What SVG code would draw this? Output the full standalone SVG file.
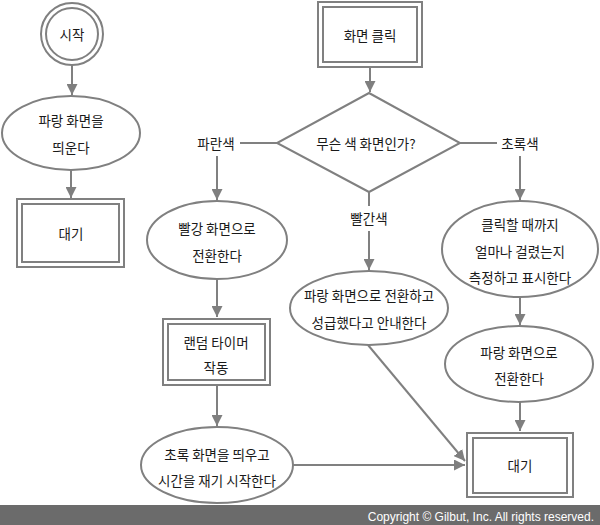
<svg xmlns="http://www.w3.org/2000/svg" width="600" height="525" viewBox="0 0 600 525">
<defs>
<marker id="ah" viewBox="0 0 10 10" refX="10" refY="5" markerWidth="5.5" markerHeight="5.5" orient="auto" markerUnits="strokeWidth">
<path d="M0,0 L10,5 L0,10 Z" fill="#7f7f7f"/>
</marker>
</defs>
<style>
.s{fill:#fff;stroke:#808080;stroke-width:2}
.n{fill:none;stroke:#808080;stroke-width:2}
.c{fill:none;stroke:#808080;stroke-width:2}
.a{marker-end:url(#ah)}
text{font-family:"Noto Sans CJK KR","Noto Sans",sans-serif;font-size:13.5px;fill:#1a1a1a;text-anchor:middle;dominant-baseline:central}
.f{font-family:"Liberation Sans",Arial,sans-serif;font-size:12px;fill:#fff;text-anchor:end}
</style>
<rect width="600" height="525" fill="#fff"/>
<g id="connectors">
<line class="c a" x1="72" y1="65" x2="72" y2="95"/>
<line class="c a" x1="71" y1="170" x2="71" y2="198"/>
<line class="c a" x1="370" y1="67" x2="370" y2="92"/>
<line class="c" x1="277" y1="143" x2="240" y2="143"/>
<line class="c a" x1="217" y1="156" x2="217" y2="200"/>
<line class="c a" x1="217" y1="279" x2="217" y2="317"/>
<line class="c a" x1="217" y1="386" x2="217" y2="426"/>
<line class="c a" x1="293" y1="465" x2="465" y2="465"/>
<line class="c" x1="460" y1="143" x2="497" y2="143"/>
<line class="c a" x1="520" y1="156" x2="520" y2="200"/>
<line class="c a" x1="520" y1="296" x2="520" y2="325"/>
<line class="c a" x1="520" y1="402" x2="520" y2="431"/>
<line class="c" x1="369" y1="192" x2="369" y2="206"/>
<line class="c a" x1="369" y1="231" x2="369" y2="270"/>
<line class="c a" x1="368" y1="345" x2="465" y2="461"/>
<text x="216" y="143">파란색</text>
<text x="520" y="143">초록색</text>
<text x="369" y="218">빨간색</text>
</g>
<g id="start">
<circle class="s" cx="72" cy="34" r="31"/>
<circle class="n" cx="72" cy="34" r="26"/>
<text x="72" y="34">시작</text>
</g>
<g id="showBlue">
<ellipse class="s" cx="71" cy="133" rx="69" ry="37"/>
<text x="71" y="120">파랑 화면을</text>
<text x="71" y="147">띄운다</text>
</g>
<g id="wait1">
<rect class="s" x="17" y="199" width="107" height="68"/>
<rect class="n" x="22" y="204" width="97" height="58"/>
<text x="71" y="233">대기</text>
</g>
<g id="click">
<rect class="s" x="318" y="2" width="104" height="65"/>
<rect class="n" x="323" y="7" width="94" height="55"/>
<text x="370" y="35">화면 클릭</text>
</g>
<g id="decision">
<polygon class="s" points="369,93 460,143 369,192 277,143"/>
<text x="366" y="143">무슨 색 화면인가?</text>
</g>
<g id="toRed">
<ellipse class="s" cx="217" cy="240" rx="70" ry="39"/>
<text x="217" y="228">빨강 화면으로</text>
<text x="217" y="255">전환한다</text>
</g>
<g id="timer">
<rect class="s" x="163" y="319" width="107" height="66"/>
<rect class="n" x="168" y="324" width="97" height="56"/>
<text x="216" y="342">랜덤 타이머</text>
<text x="216" y="367">작동</text>
</g>
<g id="toGreen">
<ellipse class="s" cx="217" cy="465" rx="76" ry="38"/>
<text x="217" y="454">초록 화면을 띄우고</text>
<text x="217" y="480">시간을 재기 시작한다</text>
</g>
<g id="tooEarly">
<ellipse class="s" cx="369" cy="308" rx="79" ry="37"/>
<text x="369" y="295">파랑 화면으로 전환하고</text>
<text x="369" y="322">성급했다고 안내한다</text>
</g>
<g id="measure">
<ellipse class="s" cx="520" cy="249" rx="78" ry="48"/>
<text x="520" y="224">클릭할 때까지</text>
<text x="520" y="251">얼마나 걸렸는지</text>
<text x="520" y="277">측정하고 표시한다</text>
</g>
<g id="toBlue">
<ellipse class="s" cx="519" cy="364" rx="74" ry="38"/>
<text x="519" y="352">파랑 화면으로</text>
<text x="519" y="378">전환한다</text>
</g>
<g id="wait2">
<rect class="s" x="467" y="433" width="106" height="64"/>
<rect class="n" x="473" y="438" width="94" height="55"/>
<text x="520" y="465">대기</text>
</g>
<g id="footer">
<rect x="0" y="505" width="600" height="20" fill="#6b6b6b"/>
<text class="f" x="594" y="517">Copyright © Gilbut, Inc. All rights reserved.</text>
</g>
</svg>
